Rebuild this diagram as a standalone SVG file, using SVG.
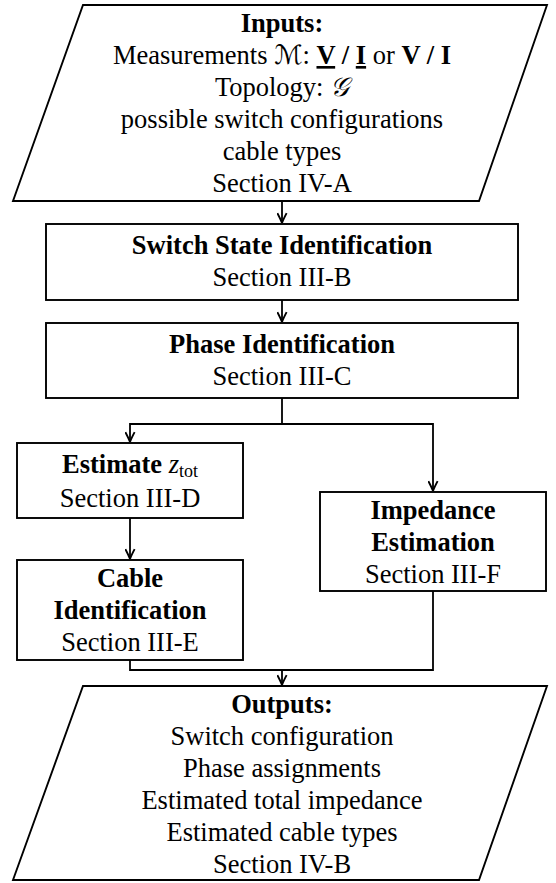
<svg xmlns="http://www.w3.org/2000/svg" width="556" height="883" viewBox="0 0 556 883">
<style>
.shape{fill:#fff;stroke:#000;stroke-width:1.9;stroke-linejoin:miter}
.conn{fill:none;stroke:#000;stroke-width:1.8}
text{font-family:"Liberation Serif","Times New Roman",serif;font-size:26.5px;fill:#000;text-anchor:middle}
.b{font-weight:bold}
.u{text-decoration:underline}
.m{font-family:"DejaVu Serif","DejaVu Sans",serif}
</style>
<defs>
<marker id="arr" viewBox="0 0 10 10" refX="10" refY="5" markerWidth="11" markerHeight="11" orient="auto" markerUnits="userSpaceOnUse">
<path d="M1,0.8 Q7,4 10,5 Q7,6 1,9.2" fill="none" stroke="#000" stroke-width="1.7"/>
</marker>
</defs>
<g id="connectors">
<path class="conn" d="M282,201 V223" marker-end="url(#arr)"/>
<path class="conn" d="M282,300 V322" marker-end="url(#arr)"/>
<path class="conn" d="M282,398 V424 H130 V442" marker-end="url(#arr)"/>
<path class="conn" d="M282,424 H433 V491" marker-end="url(#arr)"/>
<path class="conn" d="M130,518 V559" marker-end="url(#arr)"/>
<path class="conn" d="M130,660 V670 H282 V685" marker-end="url(#arr)"/>
<path class="conn" d="M433,591 V670 H282"/>
</g>
<g id="inputs">
<polygon class="shape" points="83,5 547,5 479,201 13,201"/>
<text x="282" y="32" class="b">Inputs:</text>
<text x="282" y="64">Measurements <tspan class="m" font-style="italic">ℳ</tspan>: <tspan class="b u">V</tspan><tspan class="b"> / </tspan><tspan class="b u">I</tspan> or <tspan class="b">V / I</tspan></text>
<text x="282" y="96">Topology: <tspan class="m" font-style="italic">𝒢</tspan></text>
<text x="282" y="128">possible switch configurations</text>
<text x="282" y="160">cable types</text>
<text x="282" y="192">Section IV-A</text>
</g>
<g id="switch">
<rect class="shape" x="46" y="224" width="472" height="76"/>
<text x="282" y="254" class="b">Switch State Identification</text>
<text x="282" y="286">Section III-B</text>
</g>
<g id="phase">
<rect class="shape" x="46" y="323" width="472" height="75"/>
<text x="282" y="353" class="b">Phase Identification</text>
<text x="282" y="385">Section III-C</text>
</g>
<g id="estimate">
<rect class="shape" x="17" y="443" width="226" height="75"/>
<text x="130" y="473"><tspan class="b">Estimate</tspan> <tspan font-style="italic">z</tspan><tspan font-size="18" dy="4">tot</tspan></text>
<text x="130" y="507">Section III-D</text>
</g>
<g id="cable">
<rect class="shape" x="17" y="560" width="226" height="100"/>
<text x="130" y="587" class="b">Cable</text>
<text x="130" y="619" class="b">Identification</text>
<text x="130" y="651">Section III-E</text>
</g>
<g id="impedance">
<rect class="shape" x="320" y="492" width="226" height="99"/>
<text x="433" y="519" class="b">Impedance</text>
<text x="433" y="551" class="b">Estimation</text>
<text x="433" y="583">Section III-F</text>
</g>
<g id="outputs">
<polygon class="shape" points="83,686 547,686 479,880 13,880"/>
<text x="282" y="713" class="b">Outputs:</text>
<text x="282" y="745">Switch configuration</text>
<text x="282" y="777">Phase assignments</text>
<text x="282" y="809">Estimated total impedance</text>
<text x="282" y="841">Estimated cable types</text>
<text x="282" y="873">Section IV-B</text>
</g>
</svg>
